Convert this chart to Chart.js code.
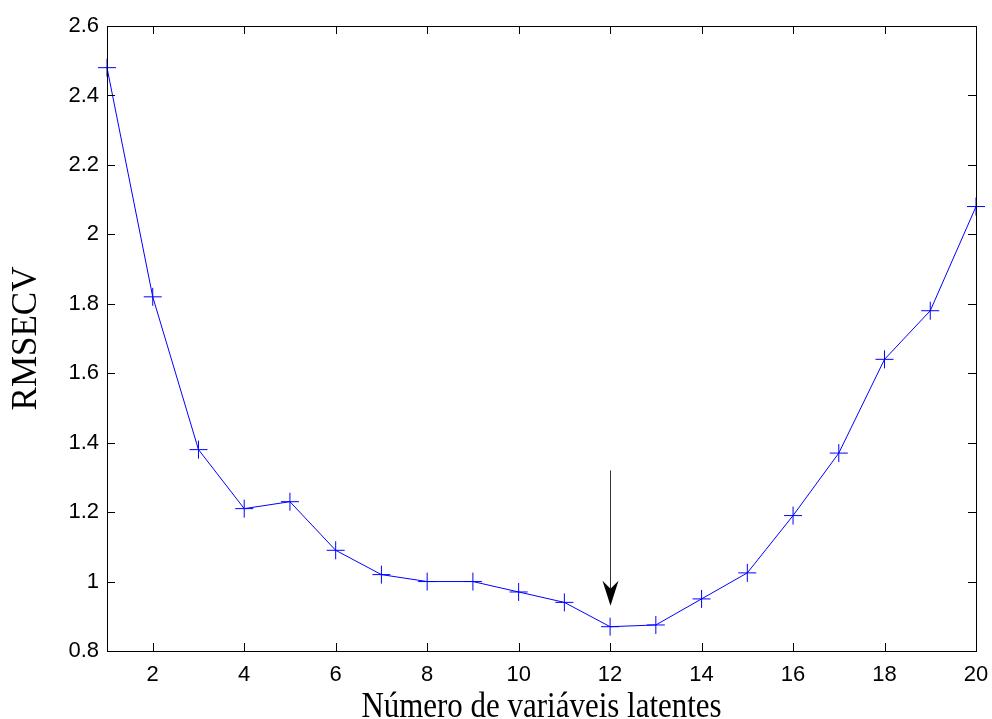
<!DOCTYPE html>
<html>
<head>
<meta charset="utf-8">
<script src="https://cdn.jsdelivr.net/npm/chart.js@4.4.1/dist/chart.umd.min.js"></script>
<style>
  html, body { margin: 0; padding: 0; background: #fff; }
  #wrap { width: 992px; height: 719px; }
</style>
</head>
<body>
<div id="wrap"><canvas id="c" width="992" height="719"></canvas></div>
<script>
// number of latent variables vs RMSECV
const nLatent = [1, 2, 3, 4, 5, 6, 7, 8, 9, 10, 11, 12, 13, 14, 15, 16, 17, 18, 19, 20];
const rmsecv = [2.48, 1.82, 1.38, 1.21, 1.23, 1.09, 1.02, 1.00, 1.00, 0.97,
                0.94, 0.87, 0.875, 0.95, 1.025, 1.19, 1.37, 1.64, 1.78, 2.08];
const xTicks = [2, 4, 6, 8, 10, 12, 14, 16, 18, 20];
const yTicks = [0.8, 1, 1.2, 1.4, 1.6, 1.8, 2, 2.2, 2.4, 2.6];
const xTitle = 'Número de variáveis latentes';
// arrow pointing at the chosen model (x, from y, to y)
const arrowX = 12;
const arrowFrom = 1.32;
const arrowTo = 0.93;

const TICK = 8;

const boxPlugin = {
  id: 'box',
  afterDatasetsDraw(chart) {
    const { ctx, chartArea: a, scales: { x, y } } = chart;
    ctx.save();
    ctx.strokeStyle = '#000';
    ctx.lineWidth = 1;
    ctx.beginPath();
    xTicks.forEach(v => {
      const px = Math.round(x.getPixelForValue(v)) + 0.5;
      ctx.moveTo(px, a.bottom); ctx.lineTo(px, a.bottom - TICK);
      ctx.moveTo(px, a.top); ctx.lineTo(px, a.top + TICK);
    });
    yTicks.forEach(v => {
      const py = Math.round(y.getPixelForValue(v)) + 0.5;
      ctx.moveTo(a.left, py); ctx.lineTo(a.left + TICK, py);
      ctx.moveTo(a.right, py); ctx.lineTo(a.right - TICK, py);
    });
    ctx.stroke();
    ctx.strokeRect(Math.round(a.left) + 0.5, Math.round(a.top) + 0.5,
                   Math.round(a.right - a.left), Math.round(a.bottom - a.top));

    // arrow
    const ax = Math.round(x.getPixelForValue(arrowX)) + 0.5;
    const y0 = y.getPixelForValue(arrowFrom);
    const y1 = y.getPixelForValue(arrowTo);
    ctx.strokeStyle = '#333';
    ctx.beginPath();
    ctx.moveTo(ax, y0); ctx.lineTo(ax, y1 - 10);
    ctx.stroke();
    ctx.fillStyle = '#000';
    ctx.beginPath();
    ctx.moveTo(ax, y1);
    ctx.lineTo(ax - 8, y1 - 25);
    ctx.lineTo(ax, y1 - 17);
    ctx.lineTo(ax + 8, y1 - 25);
    ctx.closePath();
    ctx.fill();

    // x axis title, slightly condensed like the original export
    ctx.fillStyle = '#000';
    ctx.font = '36px "Liberation Serif"';
    ctx.textAlign = 'center';
    ctx.textBaseline = 'alphabetic';
    ctx.translate((a.left + a.right) / 2, 717);
    ctx.scale(0.86, 1);
    ctx.fillText(xTitle, 0, 0);
    ctx.restore();
  }
};

new Chart(document.getElementById('c').getContext('2d'), {
  type: 'line',
  data: {
    labels: nLatent,
    datasets: [{
      data: nLatent.map((n, i) => ({ x: n, y: rmsecv[i] })),
      borderColor: '#0000ff',
      backgroundColor: '#0000ff',
      borderWidth: 1,
      tension: 0,
      pointStyle: 'cross',
      pointRadius: 9,
      pointBorderWidth: 1,
      pointBorderColor: '#0000ff',
      clip: false
    }]
  },
  options: {
    responsive: false,
    animation: false,
    events: [],
    layout: { padding: { left: 0, right: 16, top: 26, bottom: 0 } },
    plugins: { legend: { display: false }, tooltip: { enabled: false } },
    scales: {
      x: {
        type: 'linear',
        min: 1,
        max: 20,
        afterBuildTicks: s => { s.ticks = xTicks.map(v => ({ value: v })); },
        afterFit: s => { s.height = 68; s.paddingLeft = 0; s.paddingRight = 0; },
        grid: { display: false, drawTicks: false },
        border: { display: false },
        ticks: {
          color: '#000',
          padding: 11,
          maxRotation: 0,
          font: { family: 'Liberation Sans', size: 22 }
        },
        title: { display: false }
      },
      y: {
        min: 0.8,
        max: 2.6,
        afterBuildTicks: s => { s.ticks = yTicks.map(v => ({ value: v })); },
        afterFit: s => { s.width = 107; s.paddingTop = 0; s.paddingBottom = 0; },
        grid: { display: false, drawTicks: false },
        border: { display: false },
        ticks: {
          color: '#000',
          padding: 8,
          font: { family: 'Liberation Sans', size: 22 },
          callback: v => String(Math.round(v * 10) / 10)
        },
        title: {
          display: true,
          text: 'RMSECV',
          color: '#000',
          padding: { top: 6, bottom: 0 },
          font: { family: 'Liberation Serif', size: 35 }
        }
      }
    }
  },
  plugins: [boxPlugin]
});
</script>
</body>
</html>
